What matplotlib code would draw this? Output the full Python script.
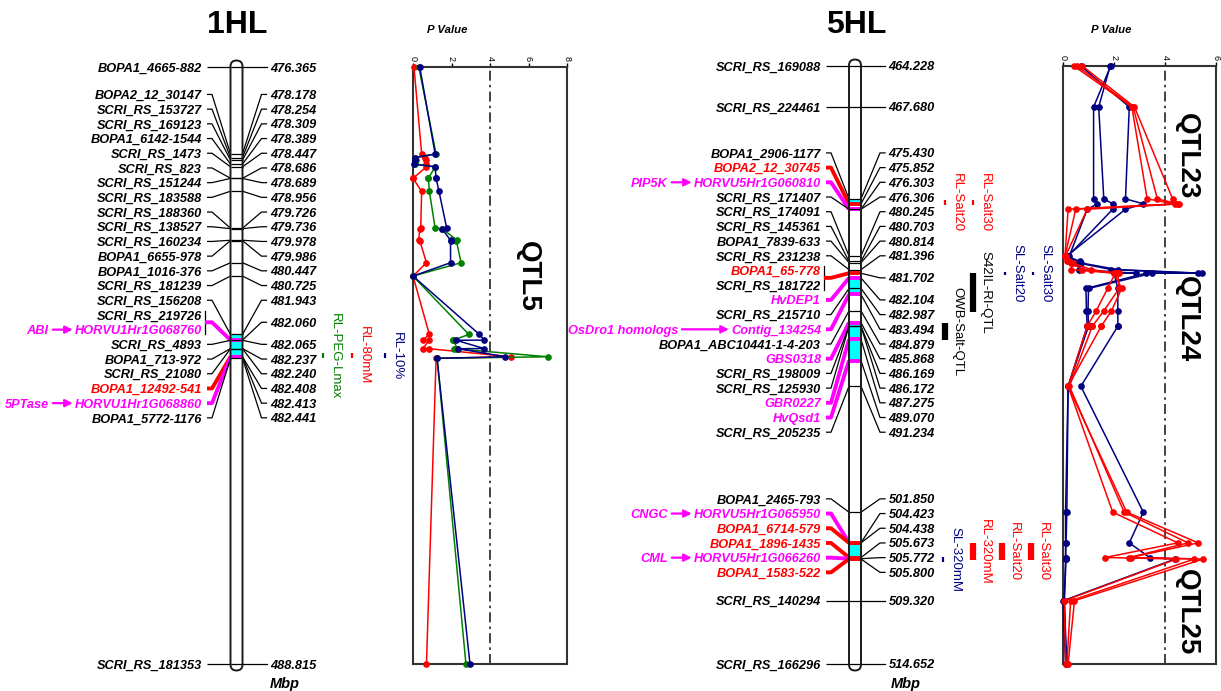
import matplotlib
matplotlib.use("Agg")
import matplotlib.pyplot as plt
from matplotlib.patches import FancyBboxPatch, Rectangle

plt.rcParams["font.family"] = ["Liberation Sans", "DejaVu Sans"]

W, H = 1221, 691
RED, MAG, NAVY, GREEN, CYAN = "#ff0000", "#ff00ff", "#000080", "#008000", "#00ffff"
KIND_COLOR = {"k": "black", "r": RED, "m": MAG}
LABEL_FONT = dict(fontsize=9.2, fontweight="bold", fontstyle="italic")

# ---------------- 1HL ----------------
# k = SNP marker, r = highlighted SNP, m = candidate gene
hl1_names = ["BOPA1_4665-882", "BOPA2_12_30147", "SCRI_RS_153727", "SCRI_RS_169123",
             "BOPA1_6142-1544", "SCRI_RS_1473", "SCRI_RS_823", "SCRI_RS_151244",
             "SCRI_RS_183588", "SCRI_RS_188360", "SCRI_RS_138527", "SCRI_RS_160234",
             "BOPA1_6655-978", "BOPA1_1016-376", "SCRI_RS_181239", "SCRI_RS_156208",
             "SCRI_RS_219726", "HORVU1Hr1G068760", "SCRI_RS_4893", "BOPA1_713-972",
             "SCRI_RS_21080", "BOPA1_12492-541", "HORVU1Hr1G068860", "BOPA1_5772-1176",
             "SCRI_RS_181353"]
hl1_mbp = [476.365, 478.178, 478.254, 478.309, 478.389, 478.447, 478.686, 478.689,
           478.956, 479.726, 479.736, 479.978, 479.986, 480.447, 480.725, 481.943,
           482.060, 482.060, 482.065, 482.237, 482.240, 482.408, 482.413, 482.441,
           488.815]
hl1_kind = ["k"] * 17 + ["m", "k", "k", "k", "r", "m", "k", "k"]
hl1_genes = {"HORVU1Hr1G068760": "ABI", "HORVU1Hr1G068860": "5PTase"}
hl1_cyan = [(481.943, 482.441)]

hl1_qtl_names = ["RL-PEG-Lmax", "RL-80mM", "RL-10%"]
hl1_qtl_start = [482.33, 482.33, 482.33]
hl1_qtl_end = [482.44, 482.44, 482.44]

# -log10 P at the SNP markers (genes carry no test)
hl1_p_rl80 = [0.05, 0.45, 0.60, 0.65, 0.65, 0.70, 0.00, 0.00, 0.45, 0.40, 0.35, 0.30,
              0.35, 0.70, 0.00, 0.85, 0.50, 0.85, 0.50, 0.85, 5.10, 1.20, 0.70]
hl1_p_peg = [0.30, 1.20, 0.10, 0.15, 0.10, 1.15, 0.80, 0.80, 0.85, 1.15, 1.50, 2.30,
             2.25, 2.50, 0.00, 2.90, 2.10, 2.10, 2.30, 2.15, 7.00, 1.25, 2.75]
hl1_p_rl10 = [0.35, 1.15, 0.10, 0.10, 0.05, 1.15, 1.20, 1.20, 1.35, 1.75, 1.50, 1.95,
              1.95, 1.95, 0.00, 3.45, 3.70, 2.25, 3.70, 2.35, 4.80, 1.25, 2.96]

# ---------------- 5HL ----------------
hl5_names = ["SCRI_RS_169088", "SCRI_RS_224461", "BOPA1_2906-1177", "BOPA2_12_30745",
             "HORVU5Hr1G060810", "SCRI_RS_171407", "SCRI_RS_174091", "SCRI_RS_145361",
             "BOPA1_7839-633", "SCRI_RS_231238", "BOPA1_65-778", "SCRI_RS_181722",
             "HvDEP1", "SCRI_RS_215710", "Contig_134254", "BOPA1_ABC10441-1-4-203",
             "GBS0318", "SCRI_RS_198009", "SCRI_RS_125930", "GBR0227", "HvQsd1",
             "SCRI_RS_205235", "BOPA1_2465-793", "HORVU5Hr1G065950", "BOPA1_6714-579",
             "BOPA1_1896-1435", "HORVU5Hr1G066260", "BOPA1_1583-522", "SCRI_RS_140294",
             "SCRI_RS_166296"]
hl5_mbp = [464.228, 467.680, 475.430, 475.852, 476.303, 476.306, 480.245, 480.703,
           480.814, 481.396, 481.702, 481.702, 482.104, 482.987, 483.494, 484.879,
           485.868, 486.169, 486.172, 487.275, 489.070, 491.234, 501.850, 504.423,
           504.438, 505.673, 505.772, 505.800, 509.320, 514.652]
hl5_kind = ["k", "k", "k", "r", "m", "k", "k", "k", "k", "k", "r", "k", "m", "k", "m",
            "k", "m", "k", "k", "m", "m", "k", "k", "m", "r", "r", "m", "r", "k", "k"]
hl5_genes = {"HORVU5Hr1G060810": "PIP5K", "Contig_134254": "OsDro1 homologs",
             "HORVU5Hr1G065950": "CNGC", "HORVU5Hr1G066260": "CML"}
hl5_cyan = [(475.430, 475.852), (482.104, 483.494), (485.868, 489.070), (504.438, 505.673)]

hl5_qtl_names = ["RL-Salt20", "RL-Salt30", "S42IL-RI-QTL", "OWB-Salt-QTL", "SL-Salt20",
                 "SL-Salt30", "SL-320mM", "RL-320mM", "RL-Salt20", "RL-Salt30"]
hl5_qtl_start = [475.53, 475.53, 481.68, 485.90, 481.60, 481.60, 505.63, 504.44, 504.44, 504.44]
hl5_qtl_end = [475.95, 475.95, 484.97, 487.33, 481.85, 481.85, 506.05, 505.88, 505.88, 505.88]

hl5_p_rls20 = [0.43, 2.70, 3.30, 4.40, 0.20, 0.08, 0.15, 0.30, 0.75, 2.10, 2.05, 1.75,
               1.30, 0.95, 0.95, 0.20, 1.95, 4.50, 1.65, 4.45, 0.05, 0.10]
hl5_p_rls30 = [0.55, 2.75, 3.70, 4.50, 0.50, 0.08, 0.20, 0.35, 1.10, 2.20, 2.15, 2.20,
               1.60, 1.15, 1.15, 0.25, 2.40, 4.90, 2.60, 5.15, 0.30, 0.15]
hl5_p_rl320 = [0.76, 2.80, 4.30, 4.55, 0.95, 0.10, 0.25, 0.40, 0.30, 2.05, 2.00, 2.30,
               1.90, 1.50, 1.50, 0.20, 2.50, 5.30, 2.65, 5.50, 0.45, 0.20]
hl5_p_sls20 = [1.87, 1.20, 1.20, 1.35, 0.95, 0.25, 0.30, 0.55, 1.90, 5.30, 3.25, 0.90,
               0.92, 0.95, 0.95, 0.20, 0.15, 0.12, 0.10, 0.12, 0.05, 0.15]
hl5_p_sls30 = [1.85, 1.40, 1.60, 1.95, 1.95, 0.20, 0.35, 0.65, 2.15, 5.45, 3.50, 1.00,
               0.98, 1.00, 1.00, 0.20, 0.10, 0.10, 0.10, 0.10, 0.05, 0.12]
hl5_p_sl320 = [0.70, 2.60, 2.45, 3.15, 2.45, 0.15, 0.65, 0.70, 0.63, 2.85, 2.00, 2.15,
               2.15, 2.15, 2.15, 0.70, 3.15, 2.60, 3.40, 4.40, 0.00, 0.10]

# ---------------- layout ----------------
LAY_1HL = dict(px=(67, 664), chrom=(230.5, 242.5), left=202, title_x=237, mbp_x=270,
               qtl_x=[323, 352, 385], qtl_lw=[1.6] * 3,
               qtl_colors=[GREEN, RED, NAVY],
               pval=(413, 567), pval_label_x=447, arrow_len={})
LAY_5HL = dict(px=(66, 664), chrom=(849, 861), left=821, title_x=856, mbp_x=891,
               qtl_x=[945, 973, 973, 945, 1005, 1033, 943, 973, 1002, 1031],
               qtl_lw=[1.6, 1.6, 4.5, 4.5, 1.6, 1.6, 1.6, 4.5, 4.5, 4.5],
               qtl_colors=[RED, RED, "black", "black", NAVY, NAVY, NAVY, RED, RED, RED],
               pval=(1063, 1216), pval_label_x=1111,
               arrow_len={"Contig_134254": 47})


def spread(centers, sizes, gap):
    """Push overlapping label blocks apart, keeping each block centred."""
    blocks = [[i] for i in range(len(centers))]

    def extent(b):
        mid = (centers[b[0]] + centers[b[-1]]) / 2
        n = sum(sizes[i] for i in b)
        return mid - n * gap / 2, n

    merged = True
    while merged:
        merged = False
        for k in range(len(blocks) - 1):
            top0, n0 = extent(blocks[k])
            top1, _ = extent(blocks[k + 1])
            if top0 + n0 * gap > top1 + 1e-9:
                blocks[k] = blocks[k] + blocks.pop(k + 1)
                merged = True
                break
    out = []
    for b in blocks:
        top, _ = extent(b)
        for i in b:
            out.append(top + sizes[i] * gap / 2)
            top += sizes[i] * gap
    return out


def draw_map(fig, title, names, mbp, kind, genes, cyan, qtl_names, qtl_a, qtl_b, lay):
    top_px, bot_px = lay["px"]
    ax = fig.add_axes([0, 1 - bot_px / H, 1, (bot_px - top_px) / H])
    ax.set_xlim(0, W)
    ax.set_ylim(mbp[-1], mbp[0])
    ax.axis("off")
    per_px = (mbp[-1] - mbp[0]) / (bot_px - top_px)
    gap = 14.7 * per_px
    xl, xr = lay["chrom"]
    tx = lay["left"]

    # chromosome body
    for fc, ec, z in [("white", "none", 1), ("none", "#1a1a1a", 6)]:
        ax.add_patch(FancyBboxPatch((xl, mbp[0] - 6.5 * per_px), xr - xl,
                                    mbp[-1] - mbp[0] + 13 * per_px,
                                    boxstyle="round,pad=0,rounding_size=6",
                                    mutation_aspect=per_px, fc=fc, ec=ec, lw=1.4,
                                    zorder=z, clip_on=False))
    for a, b in cyan:
        ax.add_patch(Rectangle((xl, a), xr - xl, b - a, fc=CYAN, ec="none", zorder=2))

    groups = []
    for i, v in enumerate(mbp):
        if groups and v == mbp[groups[-1][0]]:
            groups[-1].append(i)
        else:
            groups.append([i])
    centers = spread([mbp[g[0]] for g in groups], [len(g) for g in groups], gap)

    gene_texts = []
    for g, c in zip(groups, centers):
        v = mbp[g[0]]
        k = next((kind[i] for i in g if kind[i] != "k"), "k")
        col = KIND_COLOR[k]
        lw = 0.9 if k == "k" else 2.8
        ax.plot([xl, xr], [v, v], color=col, lw=lw, zorder=4, solid_capstyle="butt",
                clip_on=False)
        n = len(g)
        for j, i in enumerate(g):
            ly = c + (j - (n - 1) / 2) * gap
            t = ax.text(tx, ly, names[i], ha="right", va="center_baseline",
                        color=KIND_COLOR[kind[i]], **LABEL_FONT)
            if names[i] in genes:
                gene_texts.append((t, ly, genes[names[i]], names[i]))
        if n > 1:
            ax.plot([tx + 3, tx + 3], [c - n * gap / 2 + 0.2 * gap, c + n * gap / 2 - 0.2 * gap],
                    color="black", lw=0.9, clip_on=False)
            x0 = tx + 3
        else:
            x0 = tx + 5
        ax.plot([x0, tx + 10, xl], [c, c, v], color=col, lw=lw, zorder=3,
                solid_capstyle="butt", clip_on=False)
        ax.plot([xr, xr + 19, xr + 24], [v, c, c], color="black", lw=0.9, clip_on=False)
        ax.text(xr + 27.5, c, f"{v:.3f}", ha="left", va="center_baseline", **LABEL_FONT)

    # QTL intervals beside the map
    for name, a, b, x, lw, col in zip(qtl_names, qtl_a, qtl_b, lay["qtl_x"], lay["qtl_lw"],
                                      lay["qtl_colors"]):
        ax.plot([x, x], [a, b], color=col, lw=lw, solid_capstyle="butt", clip_on=False)
        ax.text(x + 12, (a + b) / 2, name, rotation=-90, ha="center", va="center",
                color=col, fontsize=9.5, rotation_mode="anchor")

    fig.text(lay["title_x"] / W, 1 - 25 / H, title, ha="center", va="center",
             fontsize=23, fontweight="bold")
    fig.text(lay["mbp_x"] / W, 1 - 677 / H, "Mbp", ha="left", va="top",
             fontsize=10.5, fontweight="bold", fontstyle="italic")
    return ax, gene_texts


def add_gene_arrows(fig, ax, gene_texts, lay):
    fig.canvas.draw()
    for t, ly, prefix, name in gene_texts:
        x_left = t.get_window_extent().x0
        end = x_left - 2
        start = end - lay["arrow_len"].get(name, 20)
        ax.annotate("", xy=(end, ly), xytext=(start, ly),
                    arrowprops=dict(arrowstyle="-|>", color=MAG, lw=1.6, mutation_scale=11,
                                    shrinkA=0, shrinkB=0), annotation_clip=False)
        ax.text(start - 4, ly, prefix, ha="right", va="center_baseline", color=MAG,
                **LABEL_FONT)


def draw_pvalue(fig, mbp, kind, series, lay, xmax, qtl_labels):
    top_px, bot_px = lay["px"]
    x0, x1 = lay["pval"]
    ax = fig.add_axes([x0 / W, 1 - bot_px / H, (x1 - x0) / W, (bot_px - top_px) / H])
    ax.set_xlim(0, xmax)
    ax.set_ylim(mbp[-1], mbp[0])
    ax.xaxis.tick_top()
    ax.set_xticks(range(0, xmax + 1, 2))
    ax.set_yticks([])
    ax.tick_params(axis="x", length=3, width=1, pad=1.5, labelsize=6.5, labelrotation=-90)
    for sp in ax.spines.values():
        sp.set_linewidth(1.5)
        sp.set_color("#333333")
    ax.axvline(4, color="#222222", lw=1.2, ls=(0, (6, 2.5, 1.5, 2.5)))
    pos = [v for v, k in zip(mbp, kind) if k != "m"]
    for vals, col in series:
        ax.plot(vals, pos, "-o", color=col, lw=1.1, ms=3.8, clip_on=False, zorder=3)
    for text, x, y in qtl_labels:
        ax.text(x, y, text, rotation=-90, ha="center", va="center", fontsize=20,
                fontweight="bold")
    fig.text(lay["pval_label_x"] / W, 1 - 30 / H, "P Value", ha="center", va="center",
             fontsize=8.2, fontweight="bold", fontstyle="italic")
    return ax


fig = plt.figure(figsize=(W / 100, H / 100), dpi=100)
fig.patch.set_facecolor("white")

ax1, genes1 = draw_map(fig, "1HL", hl1_names, hl1_mbp, hl1_kind, hl1_genes, hl1_cyan,
                       hl1_qtl_names, hl1_qtl_start, hl1_qtl_end, LAY_1HL)
ax5, genes5 = draw_map(fig, "5HL", hl5_names, hl5_mbp, hl5_kind, hl5_genes, hl5_cyan,
                       hl5_qtl_names, hl5_qtl_start, hl5_qtl_end, LAY_5HL)

draw_pvalue(fig, hl1_mbp, hl1_kind,
            [(hl1_p_rl80, RED), (hl1_p_peg, GREEN), (hl1_p_rl10, NAVY)],
            LAY_1HL, 8, [("QTL5", 5.97, 480.73)])
draw_pvalue(fig, hl5_mbp, hl5_kind,
            [(hl5_p_sls20, NAVY), (hl5_p_sls30, NAVY), (hl5_p_sl320, NAVY),
             (hl5_p_rls20, RED), (hl5_p_rls30, RED), (hl5_p_rl320, RED)],
            LAY_5HL, 6, [("QTL23", 4.86, 471.8), ("QTL24", 4.86, 485.6),
                         ("QTL25", 4.86, 510.3)])

add_gene_arrows(fig, ax1, genes1, LAY_1HL)
add_gene_arrows(fig, ax5, genes5, LAY_5HL)

fig.savefig("out.png", dpi=100)
